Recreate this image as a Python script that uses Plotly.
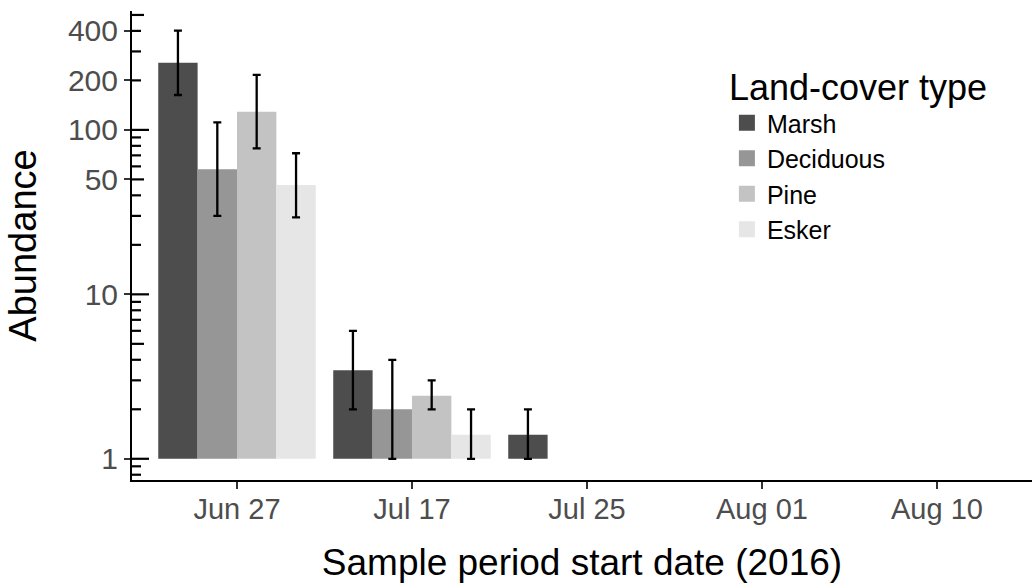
import plotly.graph_objects as go

# ---- data ----
periods = ["Jun 27", "Jul 17", "Jul 25", "Aug 01", "Aug 10"]
series_names = ["Marsh", "Deciduous", "Pine", "Esker"]
series_colors = ["#4d4d4d", "#969696", "#c3c3c3", "#e6e6e6"]

marsh = [256, 3.46, 1.4, None, None]
marsh_hi = [402, 6.0, 2.0, None, None]
marsh_lo = [163, 2.0, 1.0, None, None]

deciduous = [57.6, 2.0, None, None, None]
deciduous_hi = [111, 4.0, None, None, None]
deciduous_lo = [30.0, 1.0, None, None, None]

pine = [129, 2.42, None, None, None]
pine_hi = [216, 3.0, None, None, None]
pine_lo = [77.3, 2.0, None, None, None]

esker = [46.2, 1.4, None, None, None]
esker_hi = [72.1, 2.0, None, None, None]
esker_lo = [29.4, 1.0, None, None, None]

bar_base = 1  # bars rise from an abundance of 1

y_tick_vals = [1, 10, 50, 100, 200, 400]
y_tick_text = ["1", "10", "50", "100", "200", "400"]
# log-tick marks drawn inside the y axis (short / mid / long)
short_logticks = [0.8, 0.9, 2, 3, 4, 6, 7, 8, 9, 20, 30, 40, 60, 70, 80, 90, 200, 300, 400]
mid_logticks = [5, 50, 500]
long_logticks = [1, 10, 100]

values = [marsh, deciduous, pine, esker]
highs = [marsh_hi, deciduous_hi, pine_hi, esker_hi]
lows = [marsh_lo, deciduous_lo, pine_lo, esker_lo]

FONT = "Liberation Sans, Arial, sans-serif"
y_range = [-0.129, 2.723]
x_range = [-0.6, 4.543]
PLOT_W = 900  # plot-area width in px (used to size the log-tick marks)

fig = go.Figure()
for name, col, v, hi, lo in zip(series_names, series_colors, values, highs, lows):
    size = [None if a is None else a - bar_base for a in v]
    up = [None if (a is None or h is None) else h - a for a, h in zip(v, hi)]
    dn = [None if (a is None or l is None) else a - l for a, l in zip(v, lo)]
    fig.add_trace(go.Bar(
        x=periods, y=size, base=bar_base, name=name,
        marker=dict(color=col, line=dict(width=0)),
        error_y=dict(type="data", symmetric=False, array=up, arrayminus=dn,
                     color="black", thickness=2.3, width=4),
        showlegend=False,
    ))
    # legend swatch
    fig.add_trace(go.Scatter(
        x=[None], y=[None], mode="markers", name=name,
        marker=dict(symbol="square", size=24, color=col),
        showlegend=True, hoverinfo="skip",
    ))

# inside log ticks as axis decorations
for vals, length in [(short_logticks, 9), (mid_logticks, 12), (long_logticks, 17)]:
    for v in vals:
        fig.add_shape(type="line", xref="paper", yref="y",
                      x0=0, x1=length / PLOT_W, y0=v, y1=v,
                      line=dict(color="black", width=2.2), layer="above")

fig.update_layout(
    width=1032, height=588,
    margin=dict(l=132, r=0, t=11, b=108),
    paper_bgcolor="white", plot_bgcolor="white",
    barmode="group", bargap=0.1, bargroupgap=0,
    font=dict(family=FONT, color="black"),
    xaxis=dict(
        type="category", categoryorder="array", categoryarray=periods,
        range=x_range, showline=True, linecolor="black", linewidth=2,
        ticks="outside", ticklen=7, tickwidth=2, tickcolor="#333333",
        tickfont=dict(size=29, color="#4d4d4d", family=FONT),
        ticklabelstandoff=-5,
        showgrid=False, zeroline=False,
        title=dict(text="Sample period start date (2016)",
                   font=dict(size=37, color="black", family=FONT), standoff=25),
    ),
    yaxis=dict(
        type="log", range=y_range, tickmode="array",
        tickvals=y_tick_vals, ticktext=y_tick_text,
        showline=True, linecolor="black", linewidth=2,
        ticks="outside", ticklen=6, tickwidth=2, tickcolor="#333333",
        tickfont=dict(size=30, color="#4d4d4d", family=FONT),
        showgrid=False, zeroline=False,
        title=dict(text="Abundance", font=dict(size=38, color="black", family=FONT),
                   standoff=20),
    ),
    legend=dict(
        x=0.661, y=0.91, xanchor="left", yanchor="top",
        title=dict(text="Land-cover type", font=dict(size=36, color="black", family=FONT)),
        font=dict(size=25, color="black", family=FONT),
        bgcolor="rgba(0,0,0,0)", itemwidth=30, tracegroupgap=0,
    ),
    showlegend=True,
)

fig.write_html("out.html")
